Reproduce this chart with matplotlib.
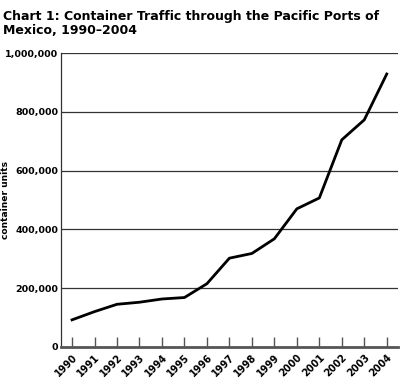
import matplotlib
matplotlib.use("Agg")
import matplotlib.pyplot as plt
from matplotlib.ticker import FuncFormatter

plt.rcParams['font.family'] = ['DejaVu Sans']

years = [1990, 1991, 1992, 1993, 1994, 1995, 1996, 1997,
         1998, 1999, 2000, 2001, 2002, 2003, 2004]
units = [92000, 120000, 145000, 152000, 163000, 168000, 215000, 302000,
         318000, 368000, 470000, 507000, 705000, 773000, 929000]
yticks = [0, 200000, 400000, 600000, 800000, 1000000]

fig = plt.figure(figsize=(4.0, 3.88), dpi=100)
ax = fig.add_axes([0.152, 0.106, 0.843, 0.757])

for t in yticks[1:]:
    ax.axhline(t, color='#333333', linewidth=0.9, zorder=1)

ax.plot(years, units, color='black', linewidth=2.0, zorder=3)

ax.set_xlim(1989.5, 2004.5)
ax.set_ylim(0, 1000000)
ax.set_xticks(years)
ax.set_xticklabels([str(y) for y in years], rotation=45, ha='right',
                   rotation_mode='anchor', fontsize=7, fontweight='bold')
ax.set_yticks(yticks)
ax.yaxis.set_major_formatter(FuncFormatter(lambda v, p: '{:,.0f}'.format(v)))
for lbl in ax.get_yticklabels():
    lbl.set_fontsize(6.8)
    lbl.set_fontweight('bold')

ax.tick_params(axis='x', direction='in', length=7, width=1, color='#555555', pad=4)
ax.tick_params(axis='y', length=0, pad=2)

for s in ['top', 'right']:
    ax.spines[s].set_visible(False)
ax.spines['left'].set_color('#333333')
ax.spines['left'].set_linewidth(0.9)
ax.spines['bottom'].set_color('#555555')
ax.spines['bottom'].set_linewidth(2)

ax.set_ylabel('container units', fontsize=6.6, fontweight='bold')
ax.yaxis.set_label_coords(-0.152, 0.5)

fig.text(0.008, 0.975, 'Chart 1: Container Traffic through the Pacific Ports of\nMexico, 1990\u20132004',
         fontsize=9.0, fontweight='bold', va='top', ha='left', linespacing=1.15)

fig.savefig('out.png', dpi=100)
